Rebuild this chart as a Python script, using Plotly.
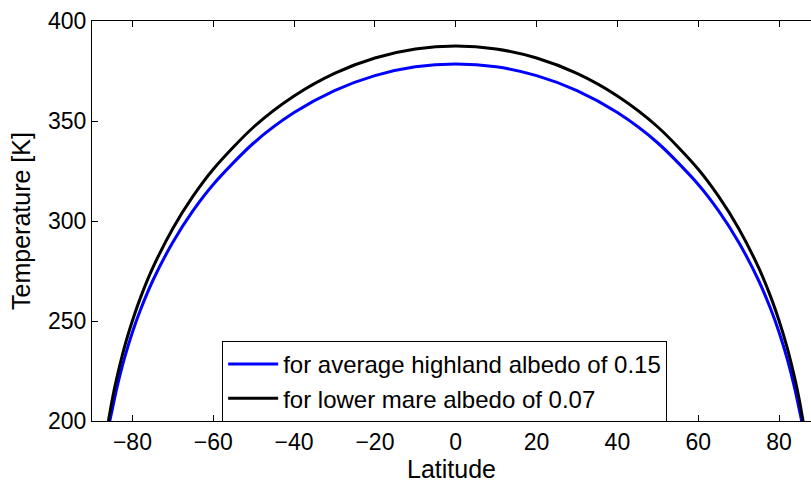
import plotly.graph_objects as go

# Latitude (deg) and temperature (K)
lat_blue = [-85.6, -85, -84, -82, -80, -78, -75, -70, -65, -60, -50, -40, -30, -20, -10, 0,
            10, 20, 30, 40, 50, 60, 65, 70, 75, 78, 80, 82, 84, 85, 85.6]
temp_blue = [200.0, 205.6, 215.2, 231.2, 244.4, 255.6, 270.0, 289.4, 305.2, 318.3, 339.0, 354.2, 365.2, 372.7, 377.1, 378.5,
             377.1, 372.7, 365.2, 354.2, 339.0, 318.3, 305.2, 289.4, 270.0, 255.6, 244.4, 231.2, 215.2, 205.6, 200.0]

lat_black = [-86, -85, -84, -82, -80, -78, -75, -70, -65, -60, -50, -40, -30, -20, -10, 0,
             10, 20, 30, 40, 50, 60, 65, 70, 75, 78, 80, 82, 84, 85, 86]
temp_black = [199.2, 210.6, 220.3, 236.7, 250.1, 261.7, 276.4, 296.3, 312.4, 325.9, 347.0, 362.5, 373.8, 381.5, 386.0, 387.5,
              386.0, 381.5, 373.8, 362.5, 347.0, 325.9, 312.4, 296.3, 276.4, 261.7, 250.1, 236.7, 220.3, 210.6, 199.2]

names = ["for average highland albedo of 0.15", "for lower mare albedo of 0.07"]
x_ticks = [-80, -60, -40, -20, 0, 20, 40, 60, 80]
y_ticks = [200, 250, 300, 350, 400]

FONT = "Liberation Sans, Arial, Helvetica, sans-serif"

fig = go.Figure()
fig.add_trace(go.Scatter(x=lat_blue, y=temp_blue, mode="lines", name=names[0],
                         line=dict(color="#0000ff", width=3, shape="spline", smoothing=0.8)))
fig.add_trace(go.Scatter(x=lat_black, y=temp_black, mode="lines", name=names[1],
                         line=dict(color="#000000", width=3, shape="spline", smoothing=0.8)))

fig.update_layout(
    width=811, height=483,
    margin=dict(l=92, r=0, t=21, b=62),
    paper_bgcolor="white", plot_bgcolor="white",
    font=dict(family=FONT, size=23, color="black"),
    showlegend=True,
    legend=dict(
        x=0.181, y=0.2, xanchor="left", yanchor="top",
        bgcolor="white", bordercolor="black", borderwidth=1,
        font=dict(family=FONT, size=24, color="black"),
        tracegroupgap=0, itemwidth=50,
    ),
    xaxis=dict(
        range=[-90, 87.9], tickvals=x_ticks, ticktext=[("\u2212" + str(-v)) if v < 0 else str(v) for v in x_ticks],
        ticks="inside", ticklen=6, tickwidth=1, tickcolor="black",
        showline=True, linecolor="black", linewidth=1, mirror="ticks",
        showgrid=False, zeroline=False,
        title=dict(text="Latitude", standoff=0, font=dict(size=25)),
    ),
    yaxis=dict(
        range=[200, 400], tickvals=y_ticks,
        ticks="inside", ticklen=6, tickwidth=1, tickcolor="black",
        showline=True, linecolor="black", linewidth=1,
        showgrid=False, zeroline=False,
        title=dict(text="Temperature [K]", standoff=10, font=dict(size=25)),
    ),
)

fig.write_html("out.html")
